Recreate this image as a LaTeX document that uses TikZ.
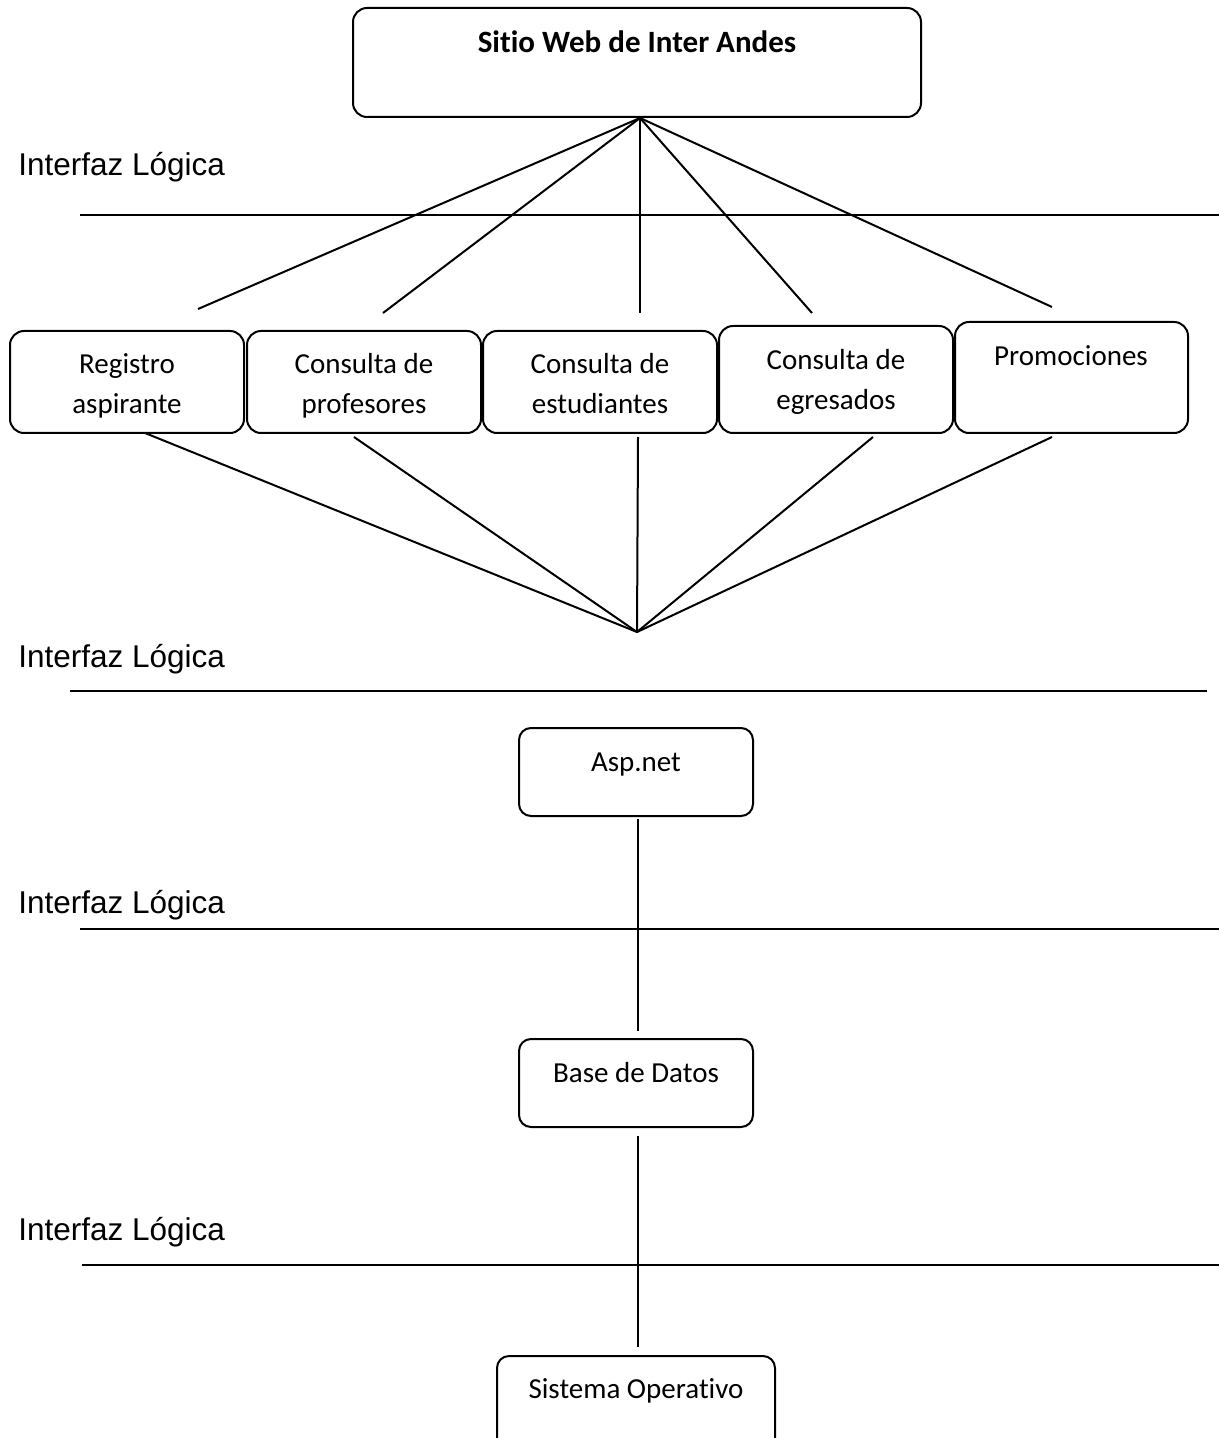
\documentclass[tikz,border=0pt]{standalone}
\usepackage{fontspec}
\setmainfont{Carlito}[RawFeature={-liga}]
\newfontfamily\arialfont{Liberation Sans}
\usetikzlibrary{fit}

\tikzset{
  boxshape/.style={draw=black, line width=1pt, rounded corners=7pt, inner sep=0pt},
  boxtext/.style={font=\fontsize{14.5pt}{20pt}\selectfont, anchor=base, inner sep=0pt},
  titletext/.style={font=\fontsize{15.5pt}{20pt}\selectfont\bfseries, anchor=base, inner sep=0pt},
  layerlabel/.style={font=\arialfont\fontsize{15.75pt}{18pt}\selectfont, anchor=base west, inner sep=0pt},
  layerline/.style={line width=1pt},
  link/.style={line width=1pt}
}

\begin{document}
\begin{tikzpicture}[x=0.5pt, y=-0.5pt]
  \clip (0,0) rectangle (1219,1438);
  \fill[white] (0,0) rectangle (1219,1438);

  % top: the web site
  \node[boxshape, fit={(353,8) (921,117)}] (web) {};
  \node[titletext] (webtxt) at (637,53) {Sitio Web de Inter Andes};

  % first logical interface
  \node[layerlabel] (lab1) at (18,176) {Interfaz Lógica};
  \coordinate (l1a) at (80,215);
  \coordinate (l1b) at (1219,215);
  \draw[layerline] (l1a) -- (l1b);

  % modules of the site
  \node[boxshape, fit={(10,331) (244,433)}] (reg) {};
  \node[boxtext] at (127,374) {Registro};
  \node[boxtext] at (127,414) {aspirante};

  \node[boxshape, fit={(247,331) (481,433)}] (prof) {};
  \node[boxtext] at (364,374) {Consulta de};
  \node[boxtext] at (364,414) {profesores};

  \node[boxshape, fit={(483,331) (717,433)}] (est) {};
  \node[boxtext] at (600,374) {Consulta de};
  \node[boxtext] at (600,414) {estudiantes};

  \node[boxshape, fit={(719,326) (953,433)}] (egr) {};
  \node[boxtext] at (836,370) {Consulta de};
  \node[boxtext] at (836,410) {egresados};

  \node[boxshape, fit={(955,322) (1188,433)}] (prom) {};
  \node[boxtext] at (1071,366) {Promociones};

  % fan from the web site down to the modules
  \coordinate (apexTop) at (640,118);
  \coordinate (up1) at (198,309);
  \coordinate (up2) at (383,313);
  \coordinate (up3) at (640,313);
  \coordinate (up4) at (812,313);
  \coordinate (up5) at (1052,307);
  \foreach \e in {up1,up2,up3,up4,up5}
    \draw[link] (apexTop) -- (\e);

  % fan from the modules down to a single point
  \coordinate (apexLow) at (637,632);
  \coordinate (dn1) at (145,433);
  \coordinate (dn2) at (354,437);
  \coordinate (dn3) at (638,437);
  \coordinate (dn4) at (873,437);
  \coordinate (dn5) at (1052,437);
  \foreach \e in {dn1,dn2,dn3,dn4,dn5}
    \draw[link] (\e) -- (apexLow);

  % second logical interface
  \node[layerlabel] (lab2) at (18,667) {Interfaz Lógica};
  \coordinate (l2a) at (70,691);
  \coordinate (l2b) at (1207,691);
  \draw[layerline] (l2a) -- (l2b);

  % Asp.net
  \node[boxshape, rounded corners=6pt, fit={(519,728) (753,816)}] (asp) {};
  \node[boxtext] at (636,771) {Asp.net};

  % third logical interface
  \node[layerlabel] (lab3) at (18,913) {Interfaz Lógica};
  \coordinate (l3a) at (80,929);
  \coordinate (l3b) at (1219,929);
  \draw[layerline] (l3a) -- (l3b);

  % database
  \node[boxshape, rounded corners=6pt, fit={(519,1039) (753,1127)}] (bd) {};
  \node[boxtext] at (636,1082) {Base de Datos};

  \coordinate (aspdown) at (638,819);
  \coordinate (bdup) at (638,1031);
  \draw[link] (aspdown) -- (bdup);

  % fourth logical interface
  \node[layerlabel] (lab4) at (18,1240) {Interfaz Lógica};
  \coordinate (l4a) at (82,1265);
  \coordinate (l4b) at (1219,1265);
  \draw[layerline] (l4a) -- (l4b);

  % operating system
  \node[boxshape, rounded corners=6pt, fit={(497,1356) (775,1460)}] (so) {};
  \node[boxtext] at (636,1398) {Sistema Operativo};

  \coordinate (bddown) at (638,1136);
  \coordinate (soup) at (638,1347);
  \draw[link] (bddown) -- (soup);
\end{tikzpicture}
\end{document}
